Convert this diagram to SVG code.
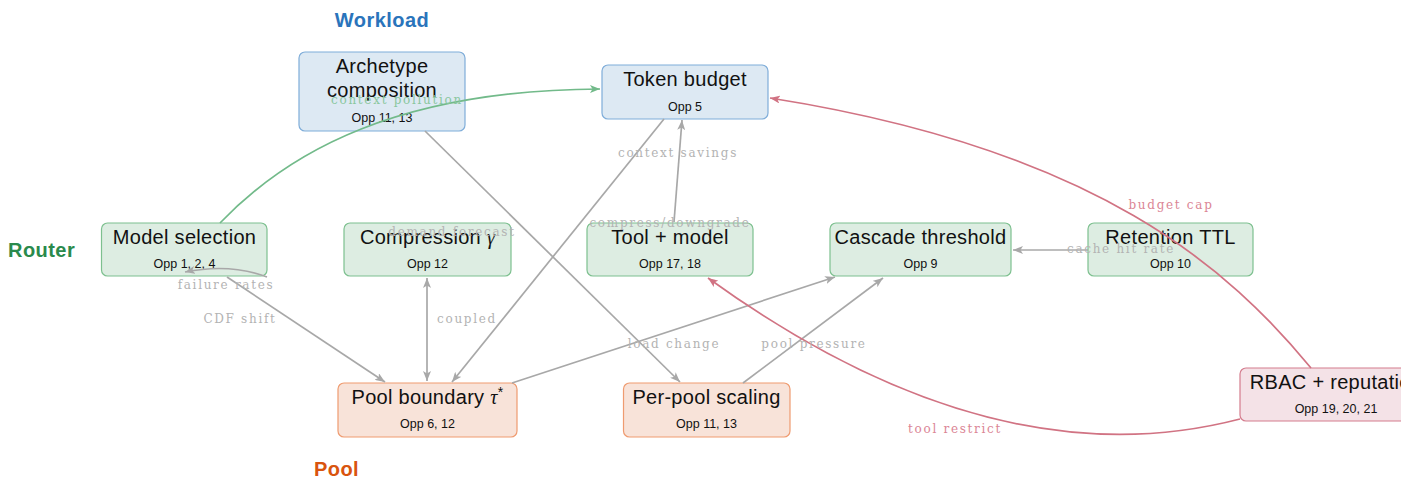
<svg xmlns="http://www.w3.org/2000/svg" width="1401" height="479" viewBox="0 0 1401 479">
<style>
.box{stroke-width:1.2}
.wl{fill:#dde9f3;stroke:#7fadd9}
.rt{fill:#ddede2;stroke:#7dc08f}
.pl{fill:#f8e3d9;stroke:#ef9b70}
.sec{fill:#f4e2e7;stroke:#d47c8e}
.t{font-family:"Liberation Sans",Arial,sans-serif;font-size:20px;letter-spacing:0.3px;fill:#111;text-anchor:middle}
.o{font-family:"Liberation Sans",Arial,sans-serif;font-size:12.5px;fill:#111;text-anchor:middle}
.h{font-family:"Liberation Sans",Arial,sans-serif;font-size:20px;letter-spacing:0.45px;font-weight:bold}
.e{fill:none;stroke-width:1.7}
.g{stroke:#a8a8a8}
.gr{stroke:#72ba8a}
.rd{stroke:#d17383}
.l{font-family:"DejaVu Serif",serif;font-size:12px;letter-spacing:1.7px;text-anchor:middle}
.lg{fill:#b3b3b3}
.lgr{fill:#8ac79e}
.lrd{fill:#db8595}
.m{font-family:"Liberation Serif",serif;font-style:italic}
</style>
<defs>
<marker id="ag" viewBox="0 0 10 8" refX="10" refY="4" markerWidth="10" markerHeight="8" markerUnits="userSpaceOnUse" orient="auto-start-reverse"><path d="M0,0 L10,4 L0,8 L2.5,4 z" fill="#a8a8a8"/></marker>
<marker id="agr" viewBox="0 0 10 8" refX="10" refY="4" markerWidth="10" markerHeight="8" markerUnits="userSpaceOnUse" orient="auto-start-reverse"><path d="M0,0 L10,4 L0,8 L2.5,4 z" fill="#72ba8a"/></marker>
<marker id="ard" viewBox="0 0 10 8" refX="10" refY="4" markerWidth="10" markerHeight="8" markerUnits="userSpaceOnUse" orient="auto-start-reverse"><path d="M0,0 L10,4 L0,8 L2.5,4 z" fill="#d17383"/></marker>
</defs>
<rect width="1401" height="479" fill="#fff"/>
<g id="headers">
<text class="h" x="382" y="26.5" text-anchor="middle" fill="#2a74bb">Workload</text>
<text class="h" x="8" y="257" fill="#2a8a4c">Router</text>
<text class="h" x="314" y="476" fill="#d9540e">Pool</text>
</g>
<g id="n-archetype"><rect class="box wl" x="299" y="52" width="166" height="79" rx="6"/><text class="t" x="382" y="73">Archetype</text><text class="t" x="382" y="97">composition</text><text class="o" x="382" y="122">Opp 11, 13</text></g>
<g id="n-token"><rect class="box wl" x="602" y="65" width="166" height="54" rx="6"/><text class="t" x="685" y="86">Token budget</text><text class="o" x="685" y="111">Opp 5</text></g>
<g id="n-model"><rect class="box rt" x="101.5" y="223" width="165.5" height="53" rx="6"/><text class="t" x="184.5" y="243.5">Model selection</text><text class="o" x="184.5" y="268">Opp 1, 2, 4</text></g>
<g id="n-compression"><rect class="box rt" x="344" y="223" width="167" height="53" rx="6"/><text class="t" x="427.5" y="243.5">Compression <tspan class="m">γ</tspan></text><text class="o" x="427.5" y="268">Opp 12</text></g>
<g id="n-tool"><rect class="box rt" x="587" y="223" width="166" height="53" rx="6"/><text class="t" x="670" y="243.5">Tool + model</text><text class="o" x="670" y="268">Opp 17, 18</text></g>
<g id="n-cascade"><rect class="box rt" x="830" y="223" width="181" height="53" rx="6"/><text class="t" x="920.5" y="243.5">Cascade threshold</text><text class="o" x="920.5" y="268">Opp 9</text></g>
<g id="n-retention"><rect class="box rt" x="1088" y="223" width="165" height="53" rx="6"/><text class="t" x="1170.5" y="243.5">Retention TTL</text><text class="o" x="1170.5" y="268">Opp 10</text></g>
<g id="n-poolboundary"><rect class="box pl" x="338" y="383" width="179" height="54" rx="6"/><text class="t" x="427.5" y="404">Pool boundary <tspan class="m">τ</tspan><tspan font-size="14" dy="-7">*</tspan></text><text class="o" x="427.5" y="428">Opp 6, 12</text></g>
<g id="n-perpool"><rect class="box pl" x="623.5" y="383" width="166.5" height="54" rx="6"/><text class="t" x="706.5" y="404">Per-pool scaling</text><text class="o" x="706.5" y="428">Opp 11, 13</text></g>
<g id="n-rbac"><rect class="box sec" x="1240" y="368" width="192" height="53" rx="6"/><text class="t" x="1336" y="389">RBAC + reputation</text><text class="o" x="1336" y="413">Opp 19, 20, 21</text></g>
<g id="connectors">
<path class="e gr" d="M220,223 C290,150 400,90 600,89" marker-end="url(#agr)"/>
<path class="e g" d="M425,131 L680,382" marker-end="url(#ag)"/>
<path class="e g" d="M664,119 L452,382" marker-end="url(#ag)"/>
<path class="e g" d="M674,222 L682,120" marker-end="url(#ag)"/>
<path class="e g" d="M267,277 Q230,263 185,272" marker-end="url(#ag)"/>
<path class="e g" d="M227,277 L385,382" marker-end="url(#ag)"/>
<path class="e g" d="M427,278 L427,381" marker-start="url(#ag)" marker-end="url(#ag)"/>
<path class="e g" d="M512,383 L835,277" marker-end="url(#ag)"/>
<path class="e g" d="M743,383 L883,278" marker-end="url(#ag)"/>
<path class="e g" d="M1088,250 L1013,250" marker-end="url(#ag)"/>
<path class="e rd" d="M1311,368 C1230,270 1100,150 770,98" marker-end="url(#ard)"/>
<path class="e rd" d="M1240,419 C1140,445 960,460 708,278" marker-end="url(#ard)"/>
<text class="l lgr" x="397" y="104">context pollution</text>
<text class="l lg" x="678" y="157">context savings</text>
<text class="l lg" x="670" y="227">compress/downgrade</text>
<text class="l lg" x="452" y="236">demand forecast</text>
<text class="l lg" x="226" y="289">failure rates</text>
<text class="l lg" x="240" y="323">CDF shift</text>
<text class="l lg" x="467" y="323">coupled</text>
<text class="l lg" x="674" y="348">load change</text>
<text class="l lg" x="814" y="348">pool pressure</text>
<text class="l lg" x="1121" y="253">cache hit rate</text>
<text class="l lrd" x="1171" y="209">budget cap</text>
<text class="l lrd" x="955" y="433">tool restrict</text>
</g>
</svg>
